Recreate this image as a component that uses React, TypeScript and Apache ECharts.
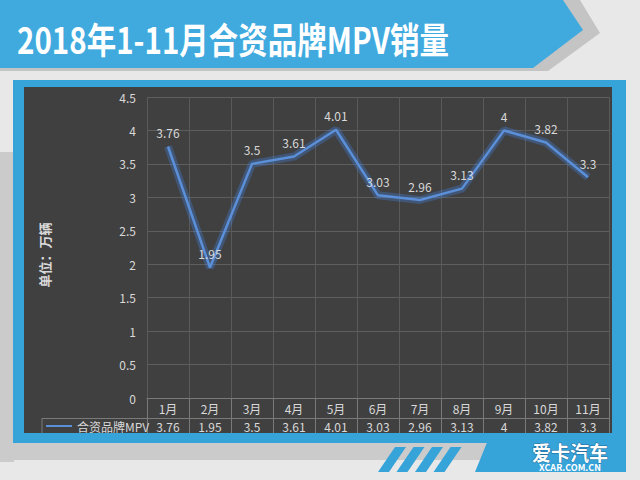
import React, { useEffect, useRef } from "react";
import * as echarts from "echarts";

const months = ["1月", "2月", "3月", "4月", "5月", "6月", "7月", "8月", "9月", "10月", "11月"];
const sales = [3.76, 1.95, 3.5, 3.61, 4.01, 3.03, 2.96, 3.13, 4, 3.82, 3.3];
const seriesName = "合资品牌MPV";
const titleText = "2018年1-11月合资品牌MPV销量";
const yAxisName = "单位：万辆";

const FONT = "'Noto Sans CJK SC', 'Noto Sans', sans-serif";
const TXT = "#d9d9d9";

export default function App() {
  const ref = useRef<HTMLDivElement>(null);
  useEffect(() => {
    document.body.style.margin = "0";
    const chart = echarts.init(ref.current!, undefined, { renderer: "svg" });
    const stripes: any[] = [0, 1, 2, 3].map((i) => ({
      type: "polygon",
      z: -5,
      shape: {
        points: [
          [395 + i * 18.5, 447],
          [406 + i * 18.5, 447],
          [389 + i * 18.5, 472],
          [378 + i * 18.5, 472],
        ],
      },
      style: { fill: "#36a3d9" },
    }));
    chart.setOption({
      animation: false,
      backgroundColor: "#e8e8e8",
      textStyle: { fontFamily: FONT },
      graphic: [
        { type: "rect", z: -10, shape: { x: 0, y: 152, width: 14, height: 310 }, style: { fill: "#cbcbcb" } },
        {
          type: "polygon",
          z: -10,
          shape: { points: [[0, 440], [492, 440], [484, 460], [0, 460]] },
          style: { fill: "#cbcbcb" },
        },
        ...stripes,
        {
          type: "polygon",
          z: -5,
          shape: { points: [[488, 440], [626, 440], [626, 472], [475, 472]] },
          style: { fill: "#36a3d9" },
        },
        {
          type: "polygon",
          z: -8,
          shape: { points: [[0, 0], [580, 0], [600, 33], [548, 71], [0, 71]] },
          style: { fill: "#c4c4c4" },
        },
        {
          type: "polygon",
          z: -7,
          shape: { points: [[0, 0], [563, 0], [583, 30], [533, 68], [0, 68]] },
          style: { fill: "#40aadf" },
        },
        {
          type: "text",
          z: 10,
          x: 17,
          y: 38,
          scaleX: 0.82,
          style: {
            text: titleText,
            fill: "#ffffff",
            font: `bold 36px ${FONT}`,
            verticalAlign: "middle",
            textAlign: "left",
            shadowColor: "rgba(0,0,0,0.45)",
            shadowBlur: 2,
            shadowOffsetX: 2,
            shadowOffsetY: 2,
          },
        },
        { type: "rect", z: -6, shape: { x: 13, y: 80, width: 613, height: 363 }, style: { fill: "#36a3d9" } },
        { type: "rect", z: -5, shape: { x: 24, y: 87, width: 588, height: 346 }, style: { fill: "#404040" } },
        { type: "rect", z: 50, shape: { x: 24, y: 433, width: 588, height: 8 }, style: { fill: "#36a3d9" } },
        {
          type: "polyline",
          z: 5,
          shape: { points: [[42, 440], [42, 418.5], [147, 418.5]] },
          style: { stroke: "#7a7a7a", lineWidth: 1, fill: "none" },
        },
        {
          type: "text",
          z: 60,
          x: 570,
          y: 452,
          scaleX: 0.95,
          style: {
            text: "爱卡汽车",
            fill: "#ffffff",
            stroke: "#1f6e9e",
            lineWidth: 1,
            font: `bold 20px ${FONT}`,
            textAlign: "center",
            verticalAlign: "middle",
          },
        },
        {
          type: "text",
          z: 60,
          x: 570,
          y: 467.5,
          style: {
            text: "XCAR.COM.CN",
            fill: "#ffffff",
            font: `bold 9px ${FONT}`,
            textAlign: "center",
            verticalAlign: "middle",
          },
        },
      ],
      legend: {
        left: 46,
        top: 420,
        icon: "rect",
        itemWidth: 26,
        itemHeight: 2,
        itemGap: 2,
        padding: 0,
        textStyle: { color: TXT, fontSize: 12, fontFamily: FONT },
        data: [{ name: seriesName }],
      },
      grid: [
        { left: 147, right: 31, top: 97, bottom: 82 },
        { left: 147, right: 31, top: 398, height: 40 },
      ],
      xAxis: [
        {
          type: "category",
          gridIndex: 0,
          data: months,
          boundaryGap: true,
          axisLine: { show: true, lineStyle: { color: "#7a7a7a" } },
          axisTick: { show: false },
          axisLabel: { color: TXT, fontSize: 12, margin: 4, interval: 0 },
          splitLine: { show: true, lineStyle: { color: "#5a5a5a" } },
        },
        {
          type: "category",
          gridIndex: 0,
          position: "bottom",
          offset: 20,
          data: sales.map(String),
          axisLine: { show: false },
          axisTick: { show: false },
          axisLabel: { color: TXT, fontSize: 12, margin: 2, interval: 0 },
          splitLine: { show: false },
        },
        {
          type: "category",
          gridIndex: 1,
          data: months,
          axisLine: { show: false },
          axisTick: { show: false },
          axisLabel: { show: false },
          splitLine: { show: true, interval: 0, lineStyle: { color: "#7a7a7a" } },
        },
      ],
      yAxis: [
        {
          type: "value",
          gridIndex: 0,
          min: 0,
          max: 4.5,
          interval: 0.5,
          name: yAxisName,
          nameLocation: "middle",
          nameGap: 96,
          nameRotate: 90,
          nameTextStyle: { color: TXT, fontSize: 13, fontWeight: "bold", padding: [0, 0, 0, -15] },
          axisLine: { show: false },
          axisTick: { show: false },
          axisLabel: { color: TXT, fontSize: 12, margin: 11 },
          splitLine: { show: true, lineStyle: { color: "#5e5e5e" } },
        },
        {
          type: "value",
          gridIndex: 1,
          min: 0,
          max: 2,
          interval: 1,
          inverse: true,
          axisLine: { show: false },
          axisTick: { show: false },
          axisLabel: { show: false },
          splitLine: { show: true, lineStyle: { color: "#7a7a7a" } },
        },
      ],
      series: [
        {
          name: seriesName + " glow",
          type: "line",
          xAxisIndex: 0,
          yAxisIndex: 0,
          data: sales,
          symbol: "none",
          silent: true,
          lineStyle: { color: "rgba(70,140,255,0.28)", width: 8 },
          z: 1,
        },
        {
          name: seriesName,
          type: "line",
          xAxisIndex: 0,
          yAxisIndex: 0,
          data: sales,
          symbol: "circle",
          symbolSize: 0,
          lineStyle: { color: "#5b8fd8", width: 2.5 },
          itemStyle: { color: "#5b8fd8" },
          label: {
            show: true,
            position: "top",
            distance: 8,
            color: TXT,
            fontSize: 12,
          },
          z: 3,
        },
      ],
    });
    return () => chart.dispose();
  }, []);
  return (
    <div
      ref={ref}
      style={{ position: "fixed", left: 0, top: 0, width: 640, height: 480 }}
    />
  );
}
